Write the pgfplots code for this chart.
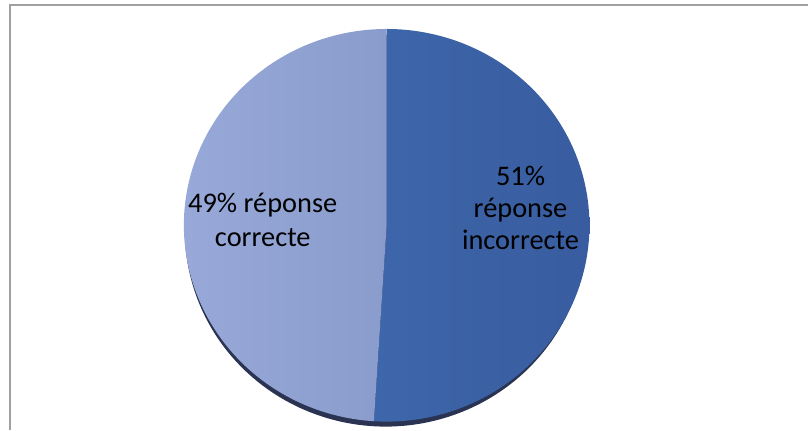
\documentclass[border=0pt]{standalone}
\usepackage{pgfplots}
\pgfplotsset{compat=1.18}
\usepackage{fontspec}
\setmainfont{Carlito}
\definecolor{darkA}{HTML}{3E66AA}
\definecolor{darkB}{HTML}{385C9F}
\definecolor{lightA}{HTML}{98A9D9}
\definecolor{lightB}{HTML}{899CCB}
\definecolor{shadowc}{HTML}{2A3452}
\definecolor{framec}{HTML}{A0A0A0}
% slice values (percent)
\def\vIncorrect{51}
\def\vCorrect{49}
\begin{document}
\begin{tikzpicture}
\begin{axis}[scale only axis, width=809bp, height=430bp,
  xmin=0, xmax=809, ymin=0, ymax=430, hide axis, clip=false]
\path (rel axis cs:0,0) rectangle (rel axis cs:1,1);
\draw[framec, line width=1.5bp] (axis cs:9.8,0) -- (axis cs:9.8,424.8) -- (axis cs:809,424.8);
% shadow
\addplot[draw=none, fill=shadowc, domain=0:360, samples=181]
  ({386+201*cos(x)},{199+196*sin(x)}) -- cycle;
% incorrect slice
\addplot[draw=none, left color=darkA, right color=darkB,
  domain=90-\vIncorrect*3.6:90, samples=140]
  ({387+203*cos(x)},{204.5+196.5*sin(x)}) -- (axis cs:387,204.5) -- cycle;
% correct slice
\addplot[draw=none, left color=lightA, right color=lightB,
  domain=90:90+\vCorrect*3.6, samples=140]
  ({387+203*cos(x)},{204.5+196.5*sin(x)}) -- (axis cs:387,204.5) -- cycle;
\node[align=center, font=\fontsize{28.5}{33.5}\selectfont] at (axis cs:263,210) {49\% réponse\\correcte};
\node[align=center, font=\fontsize{28.5}{32.5}\selectfont] at (axis cs:521,222) {51\%\\réponse\\incorrecte};
\end{axis}
\end{tikzpicture}
\end{document}
